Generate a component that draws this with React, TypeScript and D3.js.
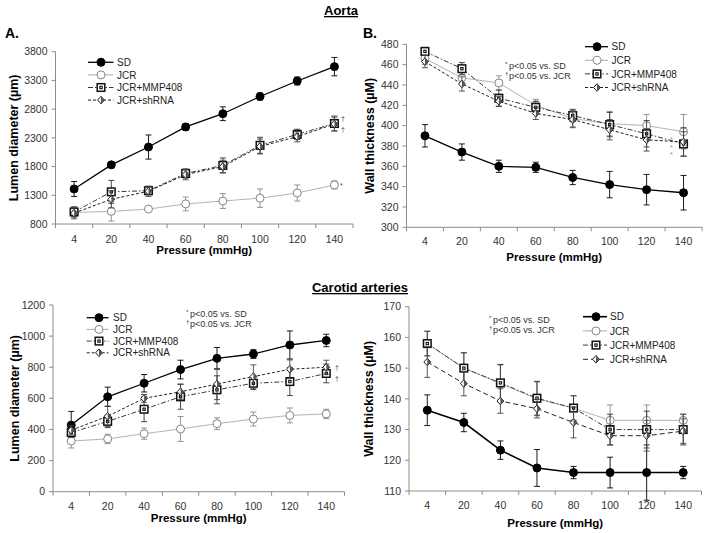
import React from "react";
import * as d3 from "d3";

const pressures = ["4", "20", "40", "60", "80", "100", "120", "140"];
const seriesNames = ["SD", "JCR", "JCR+MMP408", "JCR+shRNA"];

// Aorta – lumen diameter (µm)
const aortaLumenSD = [1410, 1830, 2140, 2490, 2720, 3020, 3290, 3540];
const aortaLumenSDErr = [130, 50, 210, 60, 120, 60, 70, 160];
const aortaLumenJCR = [1000, 1020, 1060, 1150, 1200, 1250, 1340, 1480];
const aortaLumenJCRErr = [60, 170, 30, 120, 130, 160, 140, 70];
const aortaLumenMMP = [1010, 1360, 1380, 1680, 1820, 2170, 2360, 2550];
const aortaLumenMMPErr = [90, 200, 70, 80, 130, 140, 90, 130];
const aortaLumenSh = [990, 1230, 1370, 1660, 1800, 2150, 2320, 2540];
const aortaLumenShErr = [100, 150, 90, 90, 110, 130, 90, 120];
const aortaLumenTicks = [800, 1300, 1800, 2300, 2800, 3300, 3800];

// Aorta – wall thickness
const aortaWallSD = [390, 374, 360, 359, 349, 342, 337, 334];
const aortaWallSDErr = [11, 8, 6, 5, 7, 13, 15, 17];
const aortaWallJCR = [466, 447, 442, 420, 407, 402, 400, 394];
const aortaWallJCRErr = [6, 7, 7, 6, 8, 12, 11, 17];
const aortaWallMMP = [473, 456, 427, 418, 410, 401, 392, 382];
const aortaWallMMPErr = [4, 6, 8, 6, 6, 12, 13, 12];
const aortaWallSh = [463, 441, 424, 412, 406, 396, 386, 384];
const aortaWallShErr = [6, 7, 5, 6, 8, 10, 11, 14];
const aortaWallTicks = [300, 320, 340, 360, 380, 400, 420, 440, 460, 480];

// Carotid – lumen diameter
const carLumenSD = [428, 610, 697, 785, 857, 885, 943, 972];
const carLumenSDErr = [88, 62, 56, 60, 70, 28, 90, 40];
const carLumenJCR = [326, 339, 373, 403, 437, 467, 490, 500];
const carLumenJCRErr = [45, 30, 36, 80, 38, 45, 48, 30];
const carLumenMMP = [380, 452, 530, 610, 655, 697, 708, 760];
const carLumenMMPErr = [30, 40, 80, 80, 90, 40, 90, 60];
const carLumenSh = [395, 485, 600, 642, 692, 740, 787, 800];
const carLumenShErr = [30, 65, 25, 50, 100, 75, 60, 45];
const carLumenTicks = [0, 200, 400, 600, 800, 1000, 1200];

// Carotid – wall thickness
const carWallSD = [136.3, 132.3, 123.3, 117.5, 116, 116, 116, 116];
const carWallSDErr = [5, 3, 3, 6, 2, 5, 9, 2];
const carWallJCR = [158, 150, 145, 140, 137, 133, 133, 133];
const carWallJCRErr = [4, 5, 6, 5.5, 4, 5, 5, 2];
const carWallMMP = [158, 150, 145.2, 140.2, 137, 130, 130, 130];
const carWallMMPErr = [4, 5, 6, 5.5, 4, 5, 6, 5];
const carWallSh = [152, 145, 139.3, 136.8, 132.3, 128, 128, 129.5];
const carWallShErr = [5, 4, 4, 3, 5, 3, 5, 4];
const carWallTicks = [110, 120, 130, 140, 150, 160, 170];

const FONT = "'Liberation Sans', Arial, sans-serif";

type Style = { marker: string; stroke: string; dash?: string; width: number; err: string };
const baseStyles: Style[] = [
  { marker: "filled", stroke: "#000", width: 1.3, err: "#000" },
  { marker: "open", stroke: "#b4b4b4", width: 1, err: "#8a8a8a" },
  { marker: "square", stroke: "#3a3a3a", dash: "5,2,1.5,2", width: 1, err: "#333" },
  { marker: "diamond", stroke: "#222", dash: "3,2", width: 1, err: "#444" },
];

function Marker({ type, cx, cy }: { type: string; cx: number; cy: number }) {
  if (type === "filled") return <circle cx={cx} cy={cy} r={4} fill="#000" stroke="#000" />;
  if (type === "open") return <circle cx={cx} cy={cy} r={4} fill="#fff" stroke="#777" strokeWidth={0.9} />;
  if (type === "square")
    return (
      <g>
        <rect x={cx - 3.8} y={cy - 3.8} width={7.6} height={7.6} fill="#fff" stroke="#111" strokeWidth={1.5} />
        <rect x={cx - 1.7} y={cy - 1.7} width={3.4} height={3.4} fill="#111" />
        <rect x={cx - 0.6} y={cy - 0.6} width={1.2} height={1.2} fill="#fff" />
      </g>
    );
  return (
    <g>
      <path d={`M${cx},${cy - 3.8}L${cx + 3.4},${cy}L${cx},${cy + 3.8}L${cx - 3.4},${cy}Z`} fill="#fff" stroke="#222" strokeWidth={1} />
      <path d={`M${cx},${cy - 3.8}L${cx + 3.4},${cy}L${cx},${cy + 3.8}Z`} fill="#555" />
    </g>
  );
}

type Cfg = {
  left: number; right: number; yTop: number; yBot: number;
  domain: [number, number]; ticks: number[];
  values: number[][]; errs: number[][];
  yTitle: string; yTitleX: number; xTitleY: number; xTickY: number;
  legend: { l0: number; l1: number; mx: number; tx: number; y0: number; dy: number };
  ann?: { x: number; y1: number; y2: number };
  shDash?: string;
  sdWidth?: number;
};

function Panel({ c }: { c: Cfg }) {
  const x = d3.scalePoint<string>().domain(pressures).range([c.left, c.right]).padding(0.5);
  const step = x.step();
  const y = d3.scaleLinear().domain(c.domain).range([c.yBot, c.yTop]);
  const styles = baseStyles.map((s, i) => {
    if (i === 3 && c.shDash) return { ...s, dash: c.shDash };
    if (i === 0 && c.sdWidth) return { ...s, width: c.sdWidth };
    return s;
  });
  const line = d3
    .line<number>()
    .x((_, i) => x(pressures[i]) as number)
    .y((d) => y(d));
  const axisColor = "#8c8c8c";
  const midX = (c.left + c.right) / 2;
  return (
    <g fontFamily={FONT}>
      <line x1={c.left} x2={c.left} y1={c.yTop} y2={c.yBot} stroke={axisColor} />
      <line x1={c.left} x2={c.right} y1={c.yBot} y2={c.yBot} stroke={axisColor} />
      {c.ticks.map((t) => (
        <g key={"yt" + t}>
          <line x1={c.left - 4} x2={c.left} y1={y(t)} y2={y(t)} stroke={axisColor} />
          <text x={c.left - 8} y={y(t)} dy="0.36em" textAnchor="end" fontSize={10.5} fill="#333">
            {t}
          </text>
        </g>
      ))}
      {d3.range(pressures.length + 1).map((i) => (
        <line key={"xt" + i} x1={c.left + i * step} x2={c.left + i * step} y1={c.yBot} y2={c.yBot + 4} stroke={axisColor} />
      ))}
      {pressures.map((p) => (
        <text key={"xl" + p} x={x(p)} y={c.xTickY} textAnchor="middle" fontSize={10.5} fill="#333">
          {p}
        </text>
      ))}
      <text x={midX} y={c.xTitleY} textAnchor="middle" fontSize={11.5} fontWeight="bold">
        Pressure (mmHg)
      </text>
      <text
        transform={`translate(${c.yTitleX},${(c.yTop + c.yBot) / 2}) rotate(-90)`}
        textAnchor="middle"
        fontSize={12.5}
        fontWeight="bold"
      >
        {c.yTitle}
      </text>
      {c.values.map((vals, si) => {
        const s = styles[si];
        return (
          <g key={"s" + si}>
            {vals.map((v, i) => {
              const cx = x(pressures[i]) as number;
              const e = c.errs[si][i];
              return (
                <g key={"e" + i} stroke={s.err} strokeWidth={0.9}>
                  <line x1={cx} x2={cx} y1={y(v - e)} y2={y(v + e)} />
                  <line x1={cx - 3} x2={cx + 3} y1={y(v + e)} y2={y(v + e)} />
                  <line x1={cx - 3} x2={cx + 3} y1={y(v - e)} y2={y(v - e)} />
                </g>
              );
            })}
            <path d={line(vals) as string} fill="none" stroke={s.stroke} strokeWidth={s.width} strokeDasharray={s.dash} />
            {vals.map((v, i) => (
              <Marker key={"m" + i} type={s.marker} cx={x(pressures[i]) as number} cy={y(v)} />
            ))}
          </g>
        );
      })}
      {seriesNames.map((n, i) => {
        const s = styles[i];
        const ly = c.legend.y0 + i * c.legend.dy;
        return (
          <g key={"lg" + n}>
            <line x1={c.legend.l0} x2={c.legend.l1} y1={ly} y2={ly} stroke={i === 1 ? "#aaa" : s.stroke} strokeWidth={s.width} strokeDasharray={s.dash} />
            <Marker type={s.marker} cx={c.legend.mx} cy={ly} />
            <text x={c.legend.tx} y={ly} dy="0.36em" fontSize={10} fill="#222">
              {n}
            </text>
          </g>
        );
      })}
      {c.ann && (
        <g fontSize={9} fill="#333">
          <text x={c.ann.x} y={c.ann.y1 - 3} fontSize={6}>*</text>
          <text x={c.ann.x + 4} y={c.ann.y1}>p&lt;0.05 vs. SD</text>
          <text x={c.ann.x} y={c.ann.y2 - 3} fontSize={6}>†</text>
          <text x={c.ann.x + 4} y={c.ann.y2}>p&lt;0.05 vs. JCR</text>
        </g>
      )}
    </g>
  );
}

const panels: Cfg[] = [
  {
    left: 55.5, right: 353, yTop: 51.7, yBot: 224, domain: [800, 3800], ticks: aortaLumenTicks,
    values: [aortaLumenSD, aortaLumenJCR, aortaLumenMMP, aortaLumenSh],
    errs: [aortaLumenSDErr, aortaLumenJCRErr, aortaLumenMMPErr, aortaLumenShErr],
    yTitle: "Lumen diameter (µm)", yTitleX: 18, xTitleY: 254, xTickY: 243,
    legend: { l0: 88, l1: 113.5, mx: 101, tx: 117, y0: 62.3, dy: 12.6 },
  },
  {
    left: 406.5, right: 702, yTop: 44.3, yBot: 227.3, domain: [300, 480], ticks: aortaWallTicks,
    values: [aortaWallSD, aortaWallJCR, aortaWallMMP, aortaWallSh],
    errs: [aortaWallSDErr, aortaWallJCRErr, aortaWallMMPErr, aortaWallShErr],
    yTitle: "Wall thickness (µM)", yTitleX: 373.5, xTitleY: 261, xTickY: 245,
    legend: { l0: 585, l1: 608, mx: 597, tx: 611.5, y0: 46.7, dy: 13.6 },
    ann: { x: 505, y1: 68.5, y2: 78.5 },
  },
  {
    left: 53, right: 344.5, yTop: 305, yBot: 491.7, domain: [0, 1200], ticks: carLumenTicks,
    values: [carLumenSD, carLumenJCR, carLumenMMP, carLumenSh],
    errs: [carLumenSDErr, carLumenJCRErr, carLumenMMPErr, carLumenShErr],
    yTitle: "Lumen diameter (µm)", yTitleX: 18.5, xTitleY: 522, xTickY: 510,
    legend: { l0: 86.7, l1: 108.5, mx: 99, tx: 113, y0: 317.7, dy: 11.7 },
    ann: { x: 186, y1: 316.5, y2: 326.5 },
  },
  {
    left: 409, right: 701.5, yTop: 306.7, yBot: 491, domain: [110, 170], ticks: carWallTicks,
    values: [carWallSD, carWallJCR, carWallMMP, carWallSh],
    errs: [carWallSDErr, carWallJCRErr, carWallMMPErr, carWallShErr],
    yTitle: "Wall thickness (µM)", yTitleX: 372.5, xTitleY: 527, xTickY: 509,
    legend: { l0: 583, l1: 607, mx: 596, tx: 610, y0: 316.7, dy: 14.2 },
    ann: { x: 489, y1: 322.5, y2: 332.5 },
    shDash: "5,3",
    sdWidth: 1.6,
  },
];

export default function App() {
  return (
    <svg width={707} height={533} style={{ position: "absolute", left: 0, top: 0, background: "#fff" }} fontFamily={FONT}>
      <rect width={707} height={533} fill="#fff" />
      <text x={341} y={15} textAnchor="middle" fontSize={13} fontWeight="bold" textDecoration="underline">Aorta</text>
      <text x={360} y={292} textAnchor="middle" fontSize={13} fontWeight="bold" textDecoration="underline">Carotid arteries</text>
      <text x={5} y={38} fontSize={14} fontWeight="bold">A.</text>
      <text x={363} y={38} fontSize={14} fontWeight="bold">B.</text>
      {panels.map((c, i) => (
        <Panel key={i} c={c} />
      ))}
      <g fontSize={7} fill="#444">
        <text x={340} y={188}>*</text>
        <text x={341} y={121}>†</text>
        <text x={341} y={132}>†</text>
        <text x={670} y={142} fill="#888">*</text>
        <text x={670} y={150} fill="#888">*</text>
        <text x={670} y={157} fill="#888">*</text>
        <text x={335} y={370}>†</text>
        <text x={335} y={381}>†</text>
      </g>
    </svg>
  );
}
